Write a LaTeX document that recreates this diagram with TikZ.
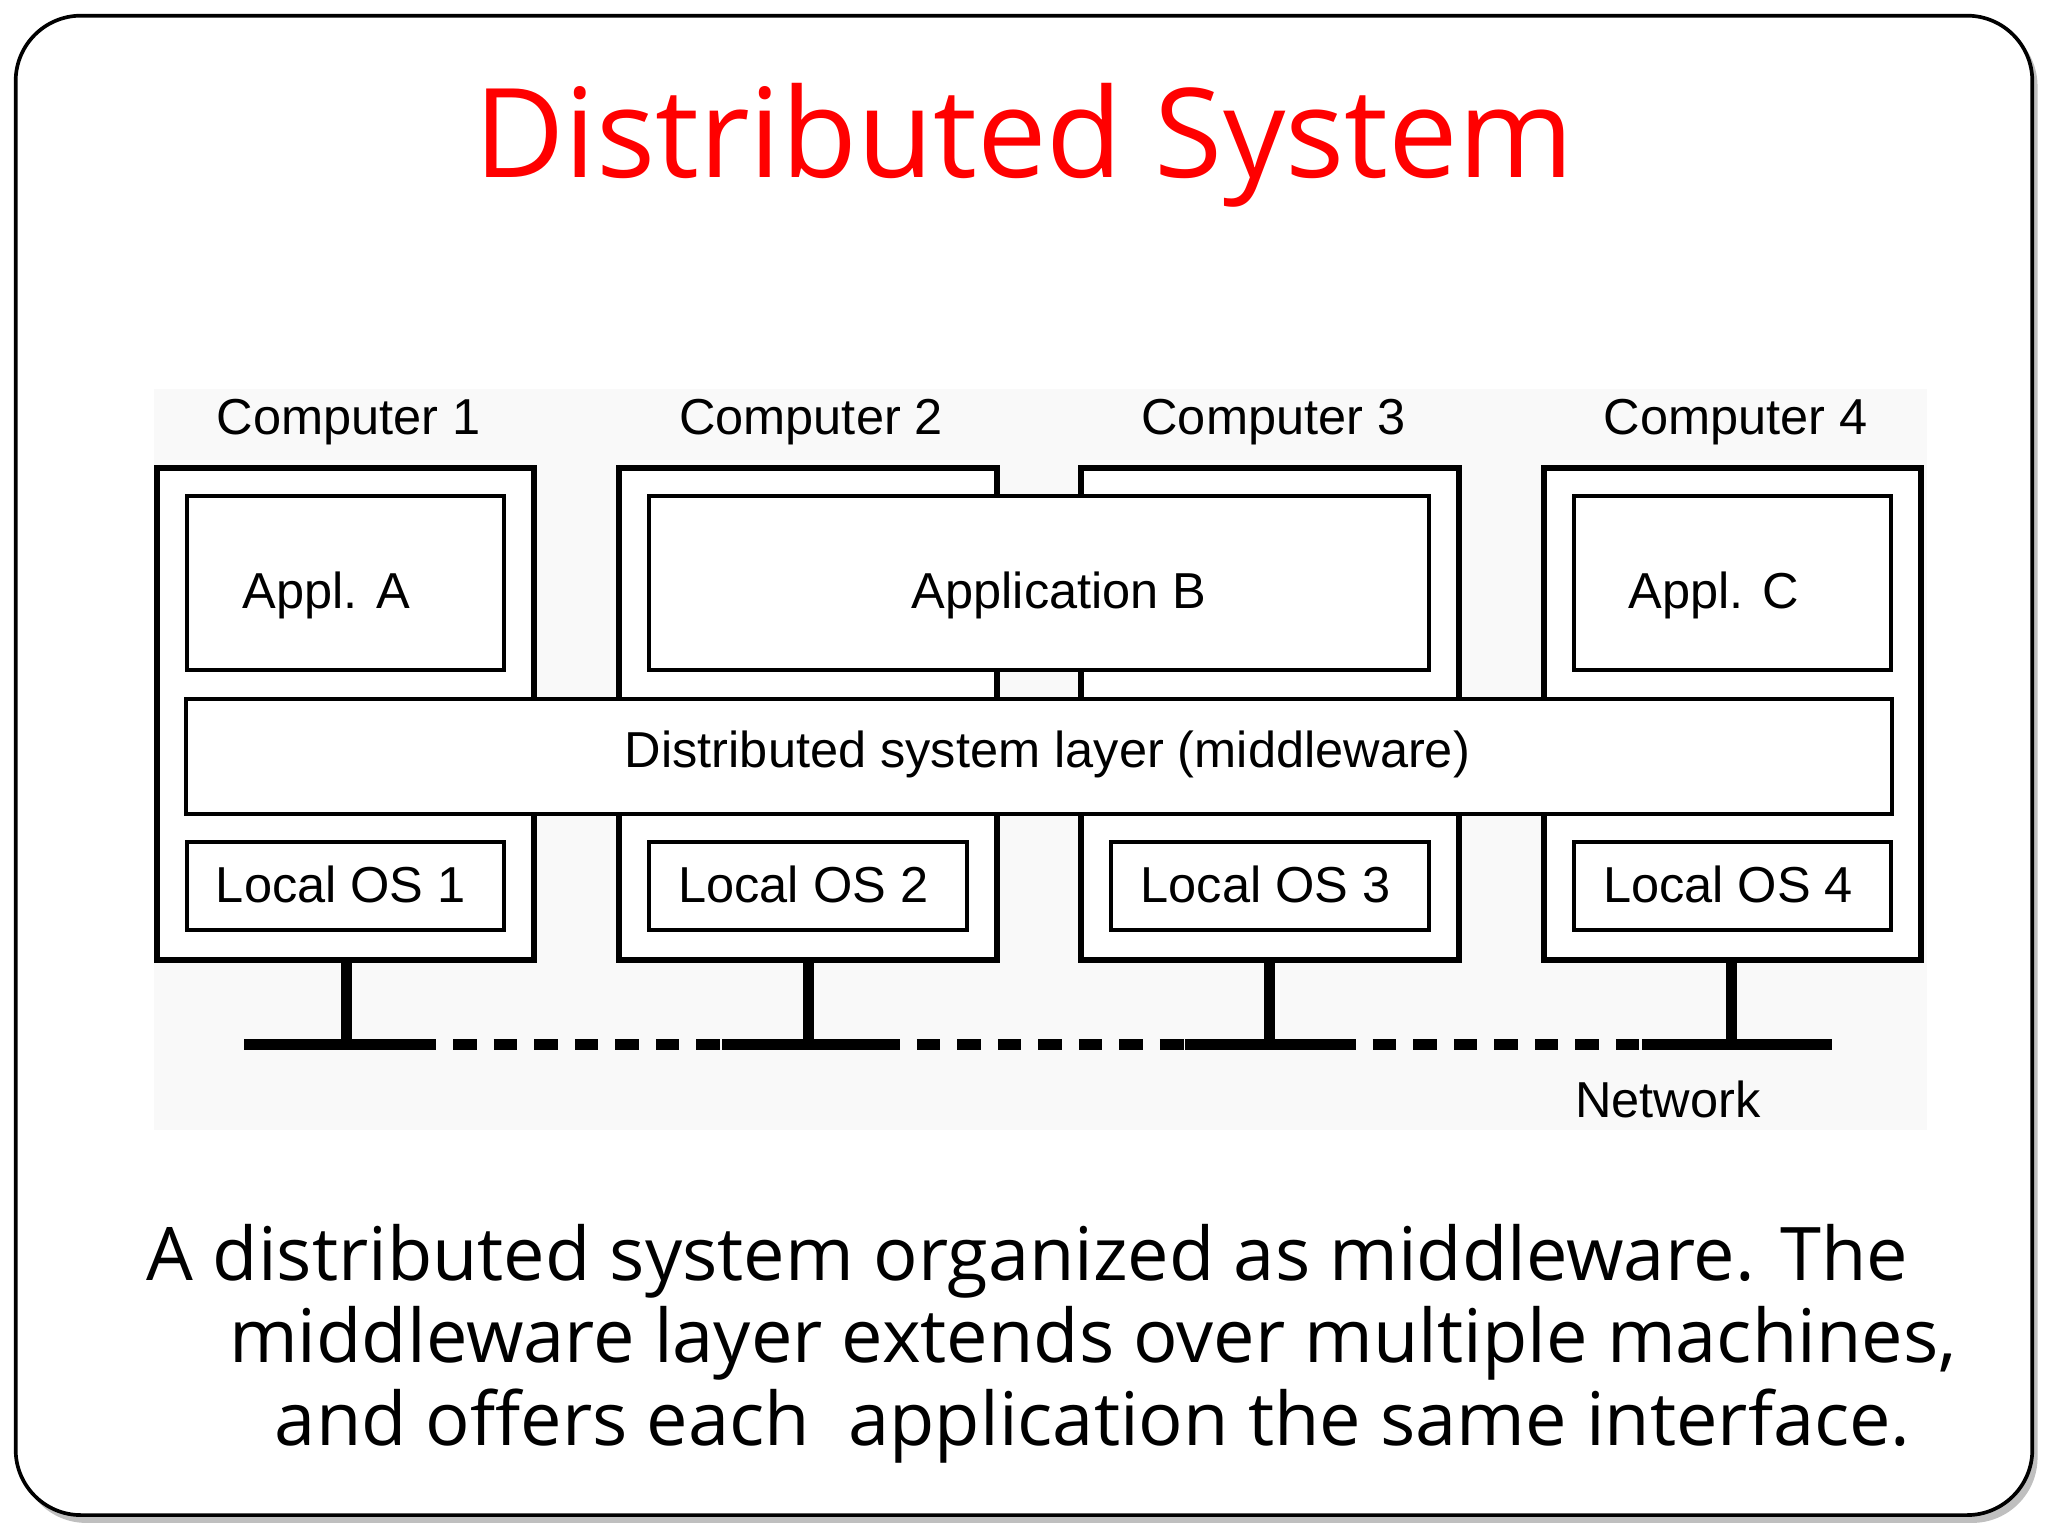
\documentclass[tikz,border=0pt]{standalone}
\usepackage{fontspec}
\setmainfont{Liberation Sans}
\newfontfamily\capfont{Open Sans}
\begin{document}
\begin{tikzpicture}[x=0.01cm,y=-0.01cm,
  comp/.style={draw,line width=1.3pt,fill=white},
  box/.style={draw,line width=0.9pt,fill=white},
  lbl/.style={font=\fontsize{11}{13}\selectfont},
  stem/.style={line width=2.4pt},
  net/.style={line width=2.4pt}]
\useasboundingbox (0,0) rectangle (1568,1176);
\fill[gray!50,rounded corners=0.5cm] (16,16) rectangle (1560,1166);
\draw[fill=white,line width=0.8pt,rounded corners=0.5cm] (12,12) rectangle (1556,1160);
\node[text=red,font=\capfont\fontsize{27}{32}\selectfont] (title) at (784,111) {Distributed System};
\fill[gray!5] (118,298) rectangle (1475,865);
\foreach \i/\x in {1/120,2/474,3/828,4/1182}{
  \draw[comp] (\x,358) rectangle (\x+289,735);
  \node[lbl] (c\i) at (\x+147,323) {Computer \i};
}
\node[box,minimum width=2.43cm,minimum height=1.33cm] (aa) at (264.5,446.5) {};
\node[lbl] (aat) at (250,456) {Appl. A};
\node[box,minimum width=5.97cm,minimum height=1.33cm] (ab) at (795.5,446.5) {};
\node[lbl] (abt) at (811,456) {Application B};
\node[box,minimum width=2.43cm,minimum height=1.33cm] (ac) at (1326.5,446.5) {};
\node[lbl] (act) at (1312,456) {Appl. C};
\node[box,minimum width=13.05cm,minimum height=0.88cm] (mw) at (795.5,579) {};
\node[lbl] (mwt) at (802,578) {Distributed system layer (middleware)};
\foreach \i/\x in {1/143,2/497,3/851,4/1205}{
  \node[box,minimum width=2.43cm,minimum height=0.67cm] (os\i) at (\x+121.5,678.5) {};
  \node[lbl] (ost\i) at (\x+118,677) {Local OS \i};
}
\foreach \i/\x in {1/265,2/619,3/972,4/1326}{
  \coordinate (b\i) at (\x,735);
  \coordinate (n\i) at (\x,800);
  \draw[stem] (b\i) -- (n\i);
}
\coordinate (s0) at (187,800); \coordinate (e0) at (333,800);
\coordinate (s1) at (553,800); \coordinate (e1) at (688,800);
\coordinate (s2) at (907,800); \coordinate (e2) at (1037,800);
\coordinate (s3) at (1257,800); \coordinate (e3) at (1403,800);
\draw[net] (s0)--(e0) (s1)--(e1) (s2)--(e2) (s3)--(e3);
\draw[net,dash pattern=on 0.18cm off 0.13cm,dash phase=-0.14cm] (e0)--(s1) (e1)--(s2) (e2)--(s3);
\node[lbl] (netl) at (1277,842) {Network};
\node[font=\capfont\fontsize{16.1}{17.9}\selectfont,align=left,anchor=north west] (cap) at (100,925)
 {A distributed system organized as middleware. The\\
 \hspace*{0.63cm}middleware layer extends over multiple machines,\\
 \hspace*{0.98cm}and offers each\ \ application the same interface.};
\end{tikzpicture}
\end{document}
